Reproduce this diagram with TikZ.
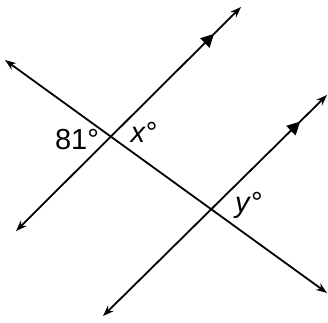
\documentclass[tikz,border=0pt]{standalone}
\usepackage{fontspec}
\setmainfont{Liberation Sans}
\usetikzlibrary{arrows.meta,decorations.markings}
\tikzset{
  ln/.style={line width=1.8pt, {Stealth[length=11pt,width=8pt]}-{Stealth[length=11pt,width=8pt]}},
  parmark/.style={postaction={decorate},decoration={markings,
     mark=at position #1 with {\arrow{Triangle[length=13pt,width=13pt]}}}},
  lbl/.style={font=\fontsize{29}{32}\selectfont, inner sep=0pt}
}
\begin{document}
\begin{tikzpicture}[x=1pt,y=-1pt]
\useasboundingbox (0,0) rectangle (328,322);
\coordinate (T1) at (5,60);
\coordinate (T2) at (327,293);
\coordinate (A1) at (16,231);
\coordinate (B1) at (241,7);
\coordinate (A2) at (103,316);
\coordinate (B2) at (327,95);
\draw[ln] (T1) -- (T2);
\draw[ln, parmark=0.88] (A1) -- (B1);
\draw[ln, parmark=0.88] (A2) -- (B2);
\node[lbl] (a81) at (77,140) {81°};
\node[lbl] (ax) at (144,132) {\textit{x}°};
\node[lbl] (ay) at (249,205) {\textit{y}°};
\end{tikzpicture}
\end{document}
